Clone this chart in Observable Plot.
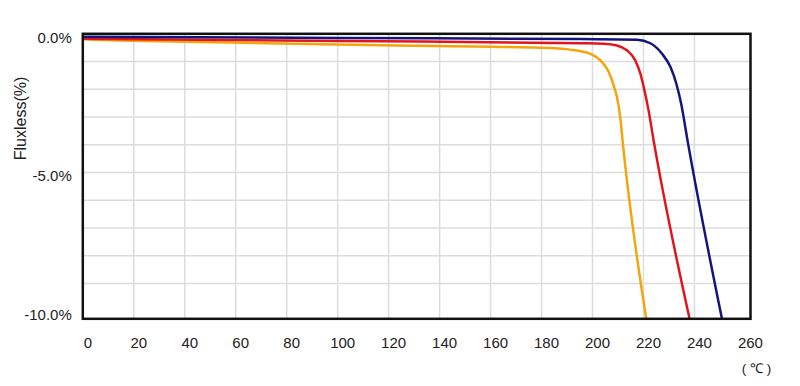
<!DOCTYPE html>
<html>
<head>
<meta charset="utf-8">
<script src="https://cdn.jsdelivr.net/npm/d3@7"></script>
<script src="https://cdn.jsdelivr.net/npm/@observablehq/plot@0.6"></script>
<style>
  html, body { margin: 0; padding: 0; background: #fff; }
</style>
</head>
<body>
<div id="chart"></div>
<script>
// Temperature (°C) and flux loss (%)
const blueTemp  = [0, 100, 195.3, 217.5, 222.7, 227.3, 230.6, 232.9, 234.8, 237.3, 250.8];
const blueLoss  = [-0.11, -0.15, -0.19, -0.21, -0.34, -0.72, -1.20, -1.80, -2.52, -3.85, -10.27];
const redTemp   = [0, 100, 195.3, 204.4, 209.6, 213.6, 216.8, 218.8, 220.4, 222.0, 224.0, 238.1];
const redLoss   = [-0.18, -0.26, -0.34, -0.36, -0.42, -0.60, -0.96, -1.44, -2.04, -2.76, -3.85, -10.27];
const orangeTemp = [0, 18.8, 116.8, 160, 179.6, 191.3, 199.2, 203.1, 206.4, 208.3, 209.6, 210.9, 211.8, 221.1];
const orangeLoss = [-0.2, -0.25, -0.41, -0.47, -0.5, -0.57, -0.72, -0.96, -1.38, -1.86, -2.28, -3.01, -3.85, -10.27];

const xTicks = [0, 20, 40, 60, 80, 100, 120, 140, 160, 180, 200, 220, 240, 260];
const xGrid = [20, 40, 60, 80, 100, 120, 140, 160, 180, 200, 220, 240];
const yTicks = [0, -5, -10];
const yGrid = [-1, -2, -3, -4, -5, -6, -7, -8, -9];
const yTitle = "Fluxless(%)";
const xUnit = "( ℃ )";

const seriesNames = ["S1", "S2", "S3"];
const seriesColors = ["#14147f", "#e2141c", "#f5a50c"];

const toRows = (t, v, s) => t.map((d, i) => ({temp: d, loss: v[i], series: s}));
const rows = [
  ...toRows(orangeTemp, orangeLoss, "S3"),
  ...toRows(redTemp, redLoss, "S2"),
  ...toRows(blueTemp, blueLoss, "S1")
];

const chart = Plot.plot({
  width: 800,
  height: 386,
  marginLeft: 82.3,
  marginRight: 50,
  marginTop: 33.3,
  marginBottom: 67.7,
  style: {fontFamily: "'Liberation Sans', Arial, sans-serif", fontSize: "15px", color: "#222", background: "#fff"},
  x: {domain: [0, 262]},
  y: {domain: [-10.27, 0]},
  color: {type: "ordinal", domain: seriesNames, range: seriesColors},
  marks: [
    Plot.gridX(xGrid, {stroke: "#dcdcdc", strokeOpacity: 1, strokeWidth: 1.5}),
    Plot.gridY(yGrid, {stroke: "#dcdcdc", strokeOpacity: 1, strokeWidth: 1.5}),
    Plot.line(rows, {x: "temp", y: "loss", z: "series", stroke: "series", strokeWidth: 2.5, curve: "monotone-x", clip: true}),
    Plot.frame({stroke: "#111", strokeWidth: 2.5}),
    Plot.axisX({ticks: xTicks, tickSize: 0, tickPadding: 19, dx: 5, fontSize: 15, label: null, tickFormat: d => String(d)}),
    Plot.axisY({ticks: yTicks, tickSize: 0, tickPadding: 11, dy: 4, fontSize: 15, label: null, tickFormat: d => d.toFixed(1) + "%"}),
    Plot.text([yTitle], {frameAnchor: "top-left", dx: 20 - 82.3, dy: 118 - 33.3, rotate: -90, textAnchor: "middle", lineAnchor: "middle", fontSize: 16, fill: "#222"}),
    Plot.text([xUnit], {frameAnchor: "bottom-right", dx: 6, dy: 50, textAnchor: "middle", lineAnchor: "middle", fontSize: 13.5, fill: "#222"})
  ]
});
document.getElementById("chart").appendChild(chart);
</script>
</body>
</html>
